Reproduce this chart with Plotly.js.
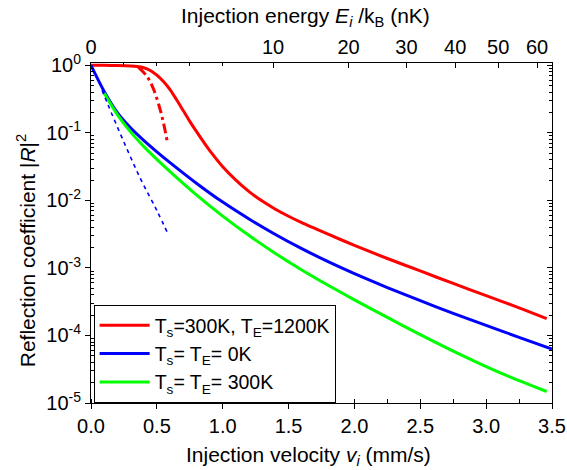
<!DOCTYPE html>
<html>
<head>
<meta charset="utf-8">
<script src="https://cdn.plot.ly/plotly-3.0.1.min.js"></script>
<style>html,body{margin:0;padding:0;background:#fff;}#chart{width:567px;height:470px;}</style>
</head>
<body>
<div id="chart"></div>
<script>
// ---- data (velocity in mm/s, reflection coefficient) ----
const redV   = [0, 0.1, 0.2, 0.3, 0.35, 0.4, 0.45, 0.5, 0.55, 0.6, 0.65, 0.7, 0.75, 0.8, 0.9, 1.0, 1.1, 1.2, 1.3, 1.4, 1.5, 1.6, 1.8, 2.0, 2.25, 2.5, 2.75, 3.0, 3.25, 3.46];
const redR   = [1.0, 1.0, 0.993, 0.977, 0.959, 0.923, 0.841, 0.716, 0.575, 0.437, 0.309, 0.214, 0.148, 0.105, 0.0550, 0.0316, 0.0200, 0.0135, 0.00977, 0.00741, 0.00582, 0.00468, 0.00316, 0.00216, 0.00138, 0.000902, 0.000589, 0.000389, 0.000257, 0.000178];

const blueV  = [0, 0.1, 0.2, 0.3, 0.4, 0.5, 0.6, 0.8, 1.0, 1.2, 1.4, 1.6, 1.8, 2.0, 2.25, 2.5, 2.75, 3.0, 3.25, 3.5];
const blueR  = [1.0, 0.412, 0.1995, 0.119, 0.0776, 0.0525, 0.0363, 0.0180, 0.00944, 0.00531, 0.00313, 0.00193, 0.00124, 0.000824, 0.000513, 0.000327, 0.000213, 0.000141, 0.0000940, 0.0000631];

const greenV = [0.1, 0.2, 0.3, 0.4, 0.5, 0.6, 0.8, 1.0, 1.2, 1.4, 1.6, 1.8, 2.0, 2.25, 2.5, 2.75, 3.0, 3.25, 3.46];
const greenR = [0.389, 0.186, 0.1035, 0.0631, 0.0405, 0.0267, 0.0121, 0.00586, 0.00302, 0.00164, 0.000935, 0.000555, 0.000337, 0.000185, 0.000103, 0.0000587, 0.0000347, 0.0000214, 0.0000148];

const blueDashV = [0.084, 0.126, 0.253, 0.376, 0.5, 0.59];
const blueDashR = [0.427, 0.269, 0.0708, 0.0209, 0.00708, 0.00302];

const redDashDotV = [0.36, 0.42, 0.47, 0.52, 0.55, 0.58];
const redDashDotR = [0.933, 0.708, 0.468, 0.240, 0.141, 0.0724];

const legendNames = [
  'T<sub>s</sub>=300K, T<sub>E</sub>=1200K',
  'T<sub>s</sub>= T<sub>E</sub>= 0K',
  'T<sub>s</sub>= T<sub>E</sub>= 300K'
];

// top axis: injection energy E/kB (nK) = C * v^2 (Rb-87, v in mm/s)
const C_NK = 5.232;
const energyTicks = [0, 10, 20, 30, 40, 50, 60];
const yTickVals = [1e-5, 1e-4, 1e-3, 1e-2, 1e-1, 1];
const yTickText = ['10<sup>-5</sup>', '10<sup>-4</sup>', '10<sup>-3</sup>', '10<sup>-2</sup>', '10<sup>-1</sup>', '10<sup>0</sup>'];

// ---- build ----
const FONT = 'Liberation Sans, Arial, sans-serif';
const yMinor = [];
for (let e = -5; e < 0; e++) for (let k = 2; k <= 9; k++) yMinor.push(k * Math.pow(10, e));
const topVals = energyTicks.map(E => Math.sqrt(E / C_NK));

const solid = (c) => ({color: c, width: 3, shape: 'spline', smoothing: 0.8});
const traces = [
  {x: redV, y: redR, mode: 'lines', name: legendNames[0], line: solid('#ff0000')},
  {x: blueV, y: blueR, mode: 'lines', name: legendNames[1], line: solid('#0000ff')},
  {x: greenV, y: greenR, mode: 'lines', name: legendNames[2], line: solid('#00ff00')},
  {x: blueDashV, y: blueDashR, mode: 'lines', showlegend: false, line: {color: '#0000ff', width: 1.6, dash: '4px,4px', shape: 'spline'}},
  {x: redDashDotV, y: redDashDotR, mode: 'lines', showlegend: false, line: {color: '#ff0000', width: 3, dash: '10px,4px,3px,4px', shape: 'spline'}},
  {x: [], y: [], xaxis: 'x2', yaxis: 'y2', mode: 'lines', showlegend: false, hoverinfo: 'skip'}
];

const axCommon = {showline: true, linecolor: '#000', linewidth: 1, showgrid: false, zeroline: false,
  tickcolor: '#000', tickwidth: 1, tickfont: {family: FONT, size: 20, color: '#000'}};

const layout = {
  width: 567, height: 470,
  margin: {l: 90.7, r: 15.3, t: 62.7, b: 66.7, pad: 0},
  paper_bgcolor: '#fff', plot_bgcolor: '#fff',
  font: {family: FONT, size: 20, color: '#000'},
  showlegend: true,
  legend: {x: 0.0057, y: 0, xanchor: 'left', yanchor: 'bottom', bgcolor: '#fff',
    bordercolor: '#000', borderwidth: 1, font: {family: FONT, size: 19.5, color: '#000'},
    tracegroupgap: 0, itemwidth: 50},
  xaxis: Object.assign({}, axCommon, {range: [0, 3.5], tick0: 0, dtick: 0.5, tickformat: '.1f',
    ticks: 'outside', ticklen: 5, anchor: 'y',
    minor: {ticks: 'inside', dtick: 0.25, tick0: 0, ticklen: 4, tickcolor: '#000', tickwidth: 1}}),
  xaxis2: Object.assign({}, axCommon, {overlaying: 'x', side: 'top', anchor: 'y', range: [0, 3.5],
    tickmode: 'array', tickvals: topVals, ticktext: energyTicks.map(String), ticks: 'inside', ticklen: 5,
    minor: {tickmode: 'array', tickvals: [0.25, 0.5, 0.75, 1.0], ticks: 'inside', ticklen: 3, tickcolor: '#000'}}),
  yaxis: Object.assign({}, axCommon, {type: 'log', range: [-5, 0.035], tickmode: 'array',
    tickvals: yTickVals, ticktext: yTickText, ticks: 'outside', ticklen: 5, anchor: 'x',
    minor: {tickmode: 'array', tickvals: yMinor, ticks: 'inside', ticklen: 3, tickcolor: '#000'}}),
  yaxis2: Object.assign({}, axCommon, {type: 'log', overlaying: 'y', side: 'right', anchor: 'x',
    range: [-5, 0.035], tickmode: 'array', tickvals: yTickVals, showticklabels: false, ticks: 'inside', ticklen: 5,
    minor: {tickmode: 'array', tickvals: yMinor, ticks: 'inside', ticklen: 3, tickcolor: '#000'}}),
  annotations: [
    {xref: 'paper', yref: 'paper', x: (308 - 90.7) / 461, y: (403.3 - 456.7) / 340.6, xanchor: 'center', yanchor: 'middle',
     showarrow: false, text: 'Injection velocity <i>v<sub>i</sub></i> (mm/s)', font: {family: FONT, size: 21}},
    {xref: 'paper', yref: 'paper', x: (305 - 90.7) / 461, y: (403.3 - 17) / 340.6, xanchor: 'center', yanchor: 'middle',
     showarrow: false, text: 'Injection energy <i>E<sub>i</sub></i> /k<sub>B</sub> (nK)', font: {family: FONT, size: 21}},
    {xref: 'paper', yref: 'paper', x: (26 - 90.7) / 461, y: (403.3 - 250) / 340.6, xanchor: 'center', yanchor: 'middle',
     textangle: -90, showarrow: false, text: 'Reflection coefficient |<i>R</i>|<sup>2</sup>', font: {family: FONT, size: 21}}
  ]
};

Plotly.newPlot('chart', traces, layout, {staticPlot: true, displayModeBar: false});
</script>
</body>
</html>
